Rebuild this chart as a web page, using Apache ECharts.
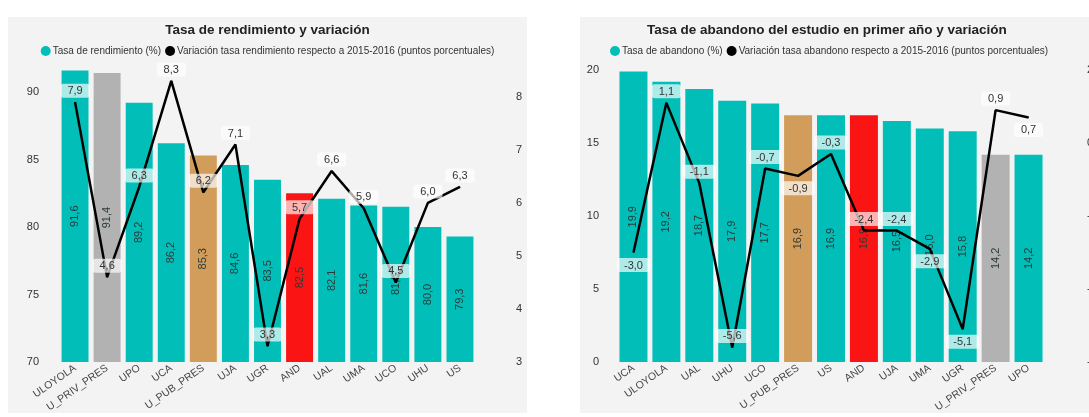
<!DOCTYPE html>
<html>
<head>
<meta charset="utf-8">
<script src="https://cdn.jsdelivr.net/npm/echarts@6/dist/echarts.min.js"></script>
<style>
  html, body { margin: 0; padding: 0; background: #fff; width: 1089px; height: 417px; overflow: hidden; }
  .panel { position: absolute; background: #f3f3f3; }
  #left { left: 8px; top: 17px; width: 519px; height: 396px; }
  #right { left: 580px; top: 17px; width: 509px; height: 396px; }
</style>
</head>
<body>
<div id="left" class="panel"></div>
<div id="right" class="panel"></div>
<script>
// Tasa de rendimiento
const rendCategories = ['ULOYOLA', 'U_PRIV_PRES', 'UPO', 'UCA', 'U_PUB_PRES', 'UJA', 'UGR', 'AND', 'UAL', 'UMA', 'UCO', 'UHU', 'US']
const rendValues = [91.6, 91.4, 89.2, 86.2, 85.3, 84.6, 83.5, 82.5, 82.1, 81.6, 81.5, 80.0, 79.3]
const rendVariacion = [7.9, 4.6, 6.3, 8.3, 6.2, 7.1, 3.3, 5.7, 6.6, 5.9, 4.5, 6.0, 6.3]

// Tasa de abandono
const abanCategories = ['UCA', 'ULOYOLA', 'UAL', 'UHU', 'UCO', 'U_PUB_PRES', 'US', 'AND', 'UJA', 'UMA', 'UGR', 'U_PRIV_PRES', 'UPO']
const abanValues = [19.9, 19.2, 18.7, 17.9, 17.7, 16.9, 16.9, 16.9, 16.5, 16.0, 15.8, 14.2, 14.2]
const abanVariacion = [-3.0, 1.1, -1.1, -5.6, -0.7, -0.9, -0.3, -2.4, -2.4, -2.9, -5.1, 0.9, 0.7]

const FONT = 'Liberation Sans, Arial, sans-serif'
const TEAL = '#01bfb8'

// colores por universidad
const barColor = (name) => {
  if (name === 'AND') return '#fb1414'
  if (name === 'U_PUB_PRES') return '#d29d5a'
  if (name === 'U_PRIV_PRES') return '#b2b2b2'
  return TEAL
}

const fmt = (v) => v.toFixed(1).replace('.', ',')

// etiquetas de la linea que van debajo del punto (grafico abandono)
const abanBelow = ['UCA', 'U_PUB_PRES', 'UMA', 'UGR', 'UPO']

const lineLabel = {
  show: true,
  position: 'top',
  distance: 4,
  formatter: (p) => fmt(p.value),
  fontFamily: FONT,
  fontSize: 11,
  color: '#333',
  backgroundColor: 'rgba(255,255,255,0.68)',
  borderRadius: 3,
  padding: [2, 7, 1, 7]
}

const buildOption = (cfg) => ({
  backgroundColor: '#f3f3f3',
  textStyle: { fontFamily: FONT },
  title: {
    text: cfg.title,
    left: cfg.titleLeft,
    top: 1,
    textStyle: { fontFamily: FONT, fontSize: 13.5, fontWeight: 'bold', color: '#222' }
  },
  legend: {
    left: cfg.legendLeft,
    top: 24,
    icon: 'circle',
    itemWidth: 10,
    itemHeight: 10,
    itemGap: 4,
    textStyle: { fontFamily: FONT, fontSize: 10, color: '#333', padding: [0, 0, 0, -3] },
    data: [
      { name: cfg.barName, itemStyle: { color: TEAL } },
      { name: cfg.lineName, itemStyle: { color: '#000' } }
    ]
  },
  grid: { ...cfg.grid, outerBoundsMode: 'none' },
  xAxis: {
    type: 'category',
    data: cfg.categories,
    axisLine: { show: false },
    axisTick: { show: false },
    axisLabel: { rotate: 35, interval: 0, margin: 5, fontFamily: FONT, fontSize: 10.5, color: '#444' }
  },
  yAxis: [
    {
      type: 'value',
      min: cfg.leftAxis[0],
      max: cfg.leftAxis[1],
      interval: cfg.leftAxis[2],
      splitLine: { show: false },
      axisLine: { show: false },
      axisTick: { show: false },
      axisLabel: { showMaxLabel: cfg.leftAxis[3], margin: cfg.leftMargin, fontFamily: FONT, fontSize: 11, color: '#333' }
    },
    {
      type: 'value',
      min: cfg.rightAxis[0],
      max: cfg.rightAxis[1],
      interval: cfg.rightAxis[2],
      splitLine: { show: false },
      axisLine: { show: false },
      axisTick: { show: false },
      axisLabel: { showMaxLabel: cfg.rightAxis[3], margin: cfg.rightMargin, fontFamily: FONT, fontSize: 11, color: '#333' }
    }
  ],
  series: [
    {
      name: cfg.barName,
      type: 'bar',
      barCategoryGap: cfg.gap,
      data: cfg.values.map((v, i) => ({ value: v, itemStyle: { color: barColor(cfg.categories[i]) } })),
      label: {
        show: true,
        position: 'inside',
        rotate: 90,
        formatter: (p) => fmt(p.value),
        fontFamily: FONT,
        fontSize: 11,
        color: '#2b3a3a'
      },
      z: 2
    },
    {
      name: cfg.lineName,
      type: 'line',
      yAxisIndex: 1,
      data: cfg.variacion.map((v, i) => (
        cfg.below.includes(cfg.categories[i]) ? { value: v, label: { position: 'bottom', distance: 5 } } : v
      )),
      symbol: 'circle',
      symbolSize: 1,
      itemStyle: { color: '#000' },
      lineStyle: { color: '#000', width: 2.5 },
      label: lineLabel,
      z: 3
    }
  ]
})

const leftChart = echarts.init(document.getElementById('left'))
leftChart.setOption(buildOption({
  title: 'Tasa de rendimiento y variación',
  titleLeft: 'center',
  legendLeft: 'center',
  barName: 'Tasa de rendimiento (%)',
  lineName: 'Variación tasa rendimiento respecto a 2015-2016 (puntos porcentuales)',
  categories: rendCategories,
  values: rendValues,
  variacion: rendVariacion,
  below: [],
  grid: { left: 51, right: 51, top: 48, bottom: 51 },
  leftAxis: [70, 92, 5, false],
  rightAxis: [3, 8.6, 1, false],
  leftMargin: 20,
  rightMargin: 40,
  gap: '16%'
}))

const rightChart = echarts.init(document.getElementById('right'))
rightChart.setOption(buildOption({
  title: 'Tasa de abandono del estudio en primer año y variación',
  titleLeft: 62,
  legendLeft: 25,
  barName: 'Tasa de abandono (%)',
  lineName: 'Variación tasa abandono respecto a 2015-2016 (puntos porcentuales)',
  categories: abanCategories,
  values: abanValues,
  variacion: abanVariacion,
  below: abanBelow,
  grid: { left: 37, right: 44, top: 53, bottom: 51 },
  leftAxis: [0, 20, 5, true],
  rightAxis: [-6, 2, 2, true],
  leftMargin: 18,
  rightMargin: 42,
  gap: '15%'
}))
</script>
</body>
</html>
